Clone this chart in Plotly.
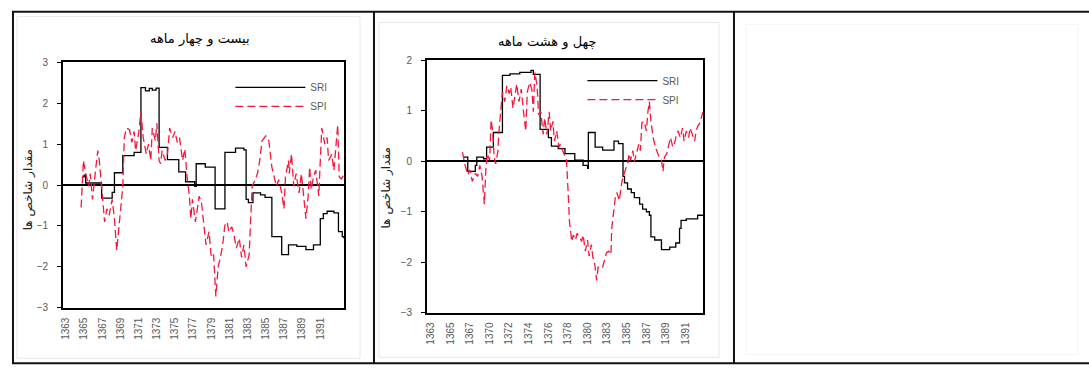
import plotly.graph_objects as go

# ---- 24-month indices (months counted from 1363/01) ----
sri24_month = [21, 24, 26, 47, 61, 64, 75, 90, 99, 105, 110, 114, 119, 123, 134, 149, 158,
               170, 172, 184, 197, 210, 224, 235, 238, 241, 247, 257, 263, 272, 285, 294,
               305, 317, 327, 336, 340, 345, 354, 360, 365, 367]
sri24_value = [0.2, 0.24, 0.05, -0.32, -0.18, 0.3, 0.72, 0.8, 2.38, 2.3, 2.36, 2.32, 2.37,
               0.92, 0.62, 0.32, 0.08, -0.03, 0.52, 0.44, -0.58, 0.8, 0.9, 0.86, -0.35,
               -0.43, -0.19, -0.24, -0.3, -1.26, -1.7, -1.46, -1.5, -1.58, -1.46, -0.82,
               -0.7, -0.64, -0.68, -1.14, -1.26, -1.3]

spi24_month = [20, 23, 26, 30, 32, 35, 39, 42, 44, 48, 51, 54, 57, 61, 64, 67, 70, 73, 75,
               77, 80, 84, 87, 90, 92, 96, 99, 102, 106, 109, 112, 114, 118, 120, 123, 125,
               127, 131, 134, 137, 141, 144, 147, 150, 154, 157, 160, 163, 165, 167, 171,
               174, 176, 179, 182, 185, 189, 192, 195, 198, 201, 204, 207, 210, 213, 215,
               219, 222, 225, 229, 232, 235, 238, 242, 244, 246, 250, 253, 256, 259, 264,
               268, 272, 275, 278, 281, 285, 288, 290, 294, 295, 298, 301, 304, 308, 311,
               314, 317, 320, 322, 324, 327, 330, 334, 336, 338, 342, 345, 347, 351, 354,
               357, 359, 361, 364, 367]
spi24_value = [-0.55, 0.6, 0.28, -0.03, 0.28, -0.35, 0.36, 0.84, 0.6, -0.19, -0.9, -0.58,
               -0.74, -0.35, -0.82, -1.6, -0.9, -0.43, -0.03, 1.16, 1.39, 1.35, 1.04, 1.31,
               0.84, 1.27, 1.79, 1.16, 0.76, 1.0, 0.6, 1.39, 1.08, 1.51, 0.6, 0.52, 0.84,
               0.6, 0.75, 1.39, 1.16, 1.31, 1.04, 1.16, 0.6, 0.88, 0.2, -0.27, -0.82,
               -0.35, -0.9, -0.5, -0.27, -0.43, -0.98, -1.46, -1.14, -1.77, -1.7, -2.72,
               -2.0, -1.77, -1.46, -0.98, -0.9, -1.14, -1.02, -1.22, -1.54, -1.3, -1.77,
               -1.46, -2.0, -1.7, -0.82, -0.03, 0.13, 0.28, 0.6, 1.08, 1.2, 1.08, 0.44,
               0.2, -0.03, 0.13, -0.19, -0.58, 0.2, 0.6, 0.28, 0.76, -0.03, 0.28, -0.19,
               0.28, -0.35, -0.82, -0.27, 0.44, -0.11, 0.2, 0.36, -0.27, 0.6, 1.39, 1.0,
               1.16, 0.6, 0.75, 0.36, 1.0, 1.47, 0.2, 0.15, 0.25]

# ---- 48-month indices ----
sri48_month = [43, 49, 59, 61, 70, 74, 83, 95, 105, 118, 133, 136, 145, 156, 160, 169, 178,
               191, 202, 208, 209, 218, 228, 243, 249, 255, 257, 261, 266, 270, 277, 281,
               286, 290, 292, 297, 306, 317, 325, 330, 332, 339, 354, 361]
sri48_value = [0.08, -0.2, -0.08, 0.08, 0.05, 0.28, 0.57, 1.7, 1.73, 1.76, 1.8, 1.72, 0.63,
               0.47, 0.3, 0.25, 0.15, 0.02, -0.08, -0.14, 0.57, 0.28, 0.22, 0.4, 0.35,
               -0.3, -0.43, -0.55, -0.62, -0.72, -0.85, -0.95, -1.0, -1.07, -1.5, -1.56,
               -1.75, -1.7, -1.62, -1.33, -1.17, -1.14, -1.07, -1.07]

spi48_month = [42, 45, 49, 52, 55, 59, 62, 65, 68, 71, 73, 75, 78, 80, 82, 84, 86, 89, 90,
               93, 95, 98, 101, 104, 106, 109, 112, 114, 117, 120, 123, 126, 128, 131, 134,
               136, 138, 141, 143, 146, 149, 151, 154, 157, 159, 162, 164, 167, 170, 172,
               175, 178, 180, 182, 184, 187, 189, 192, 194, 198, 200, 202, 205, 208, 210,
               213, 215, 217, 220, 222, 225, 228, 231, 233, 236, 239, 240, 243, 245, 247,
               250, 252, 254, 256, 258, 261, 263, 265, 268, 270, 273, 276, 278, 280, 283,
               286, 288, 290, 292, 295, 298, 300, 303, 306, 308, 310, 313, 315, 318, 321,
               323, 326, 328, 331, 334, 336, 339, 342, 344, 347, 350, 352, 354, 357, 359,
               361]
spi48_value = [0.18, -0.05, -0.27, -0.17, -0.4, -0.24, -0.3, -0.08, -0.3, -0.85, -0.17,
               0.15, 0.02, 0.82, 0.6, 0.08, -0.05, 0.2, 0.53, 1.11, 1.37, 1.18, 1.5, 1.34,
               1.47, 1.05, 1.4, 1.53, 1.18, 1.43, 0.98, 0.6, 1.37, 1.56, 1.43, 0.98, 1.76,
               1.5, 0.92, 0.98, 0.53, 0.86, 0.53, 0.98, 0.6, 0.79, 0.4, 0.6, 0.28, 0.34,
               0.21, 0.08, 0.02, -0.56, -1.2, -1.59, -1.46, -1.56, -1.43, -1.52, -1.59,
               -1.46, -1.78, -1.56, -1.88, -1.65, -1.91, -1.97, -2.36, -2.1, -2.13, -2.1,
               -1.91, -1.81, -1.78, -1.85, -1.33, -0.88, -0.69, -0.62, -0.78, -0.56, -0.37,
               -0.3, -0.17, -0.05, 0.15, 0.02, 0.21, -0.01, 0.15, 0.34, 0.21, 0.76, 0.79,
               0.6, 0.98, 1.18, 0.79, 0.47, 0.28, 0.21, 0.08, 0.02, -0.2, 0.08, 0.15, 0.28,
               0.47, 0.28, 0.34, 0.53, 0.6, 0.47, 0.66, 0.4, 0.6, 0.47, 0.66, 0.53, 0.4,
               0.6, 0.69, 0.76, 0.89, 0.98]

# ---- axis labels ----
ticks24_month = [0, 24, 48, 72, 96, 120, 144, 168, 192, 216, 240, 264, 288, 312, 336]
ticks24_text = ["1363", "1365", "1367", "1369", "1371", "1373", "1375", "1377", "1379",
                "1381", "1383", "1385", "1387", "1389", "1391"]
ticks48_month = [0, 26, 52, 78, 104, 130, 156, 182, 208, 234, 260, 286, 312, 338]
ticks48_text = ["1363", "1365", "1367", "1370", "1372", "1374", "1376", "1378", "1380",
                "1383", "1385", "1387", "1389", "1391"]

title24 = "بیست و چهار ماهه"
title48 = "چهل و هشت ماهه"
y_title = "مقدار شاخص ها"

W, H = 1089, 374
BLACK = "#000000"
RED = "#f5173d"
GREY = "#595959"
TICK_FONT = dict(family="Liberation Sans, Arial, sans-serif", size=10, color=GREY)
LEG_FONT = dict(family="Liberation Sans, Arial, sans-serif", size=10, color=GREY)
FA_FONT = "DejaVu Sans, Noto Sans, sans-serif"


def px_x(v):
    return v / W


def px_y(v):
    return 1 - v / H


fig = go.Figure()

fig.add_trace(go.Scatter(x=sri24_month, y=sri24_value, mode="lines", name="SRI",
                         line=dict(color=BLACK, width=1.3, shape="hv"),
                         xaxis="x", yaxis="y", legend="legend"))
fig.add_trace(go.Scatter(x=spi24_month, y=spi24_value, mode="lines", name="SPI",
                         line=dict(color=RED, width=1.3, dash="8px,4px"),
                         xaxis="x", yaxis="y", legend="legend"))
fig.add_trace(go.Scatter(x=sri48_month, y=sri48_value, mode="lines", name="SRI",
                         line=dict(color=BLACK, width=1.3, shape="hv"),
                         xaxis="x2", yaxis="y2", legend="legend2"))
fig.add_trace(go.Scatter(x=spi48_month, y=spi48_value, mode="lines", name="SPI",
                         line=dict(color=RED, width=1.3, dash="8px,4px"),
                         xaxis="x2", yaxis="y2", legend="legend2"))

xcommon = dict(showgrid=False, zeroline=False, showline=True, mirror=True,
               linecolor=BLACK, linewidth=1.5, ticks="", tickangle=-90,
               tickfont=TICK_FONT, tickmode="array", ticklabelstandoff=4)
ycommon = dict(showgrid=False, zeroline=True, zerolinecolor=BLACK, zerolinewidth=1.5,
               showline=True, mirror=True, linecolor=BLACK, linewidth=1.5,
               ticks="outside", ticklen=4, tickcolor=BLACK, tickwidth=1,
               tickfont=TICK_FONT, dtick=1, tick0=0, ticklabelstandoff=7)

fig.update_layout(
    width=W, height=H,
    margin=dict(l=0, r=0, t=0, b=0),
    paper_bgcolor="white", plot_bgcolor="white",
    xaxis=dict(domain=[px_x(60), px_x(342)], range=[-4.2, 367.4],
               tickvals=ticks24_month, ticktext=ticks24_text, anchor="y", **xcommon),
    yaxis=dict(domain=[px_y(312), px_y(59)], range=[-3, 3], anchor="x", **ycommon),
    xaxis2=dict(domain=[px_x(425), px_x(702)], range=[-5.3, 361.2],
                tickvals=ticks48_month, ticktext=ticks48_text, anchor="y2", **xcommon),
    yaxis2=dict(domain=[px_y(317), px_y(57)], range=[-3, 2], anchor="x2", **ycommon),
    legend=dict(x=px_x(228), y=px_y(70), xanchor="left", yanchor="top",
                bgcolor="rgba(0,0,0,0)", font=LEG_FONT, itemwidth=70,
                tracegroupgap=0),
    legend2=dict(x=px_x(581), y=px_y(63), xanchor="left", yanchor="top",
                 bgcolor="rgba(0,0,0,0)", font=LEG_FONT, itemwidth=70,
                 tracegroupgap=0),
    showlegend=True,
)

# chart titles and vertical axis titles
annots = [
    dict(text=title24, x=px_x(198), y=px_y(35), font=dict(family=FA_FONT, size=13, color=BLACK)),
    dict(text=title48, x=px_x(546), y=px_y(38), font=dict(family=FA_FONT, size=13, color=BLACK)),
    dict(text=y_title, x=px_x(25), y=px_y(190), textangle=-90,
         font=dict(family=FA_FONT, size=12, color="#222222")),
    dict(text=y_title, x=px_x(385), y=px_y(188), textangle=-90,
         font=dict(family=FA_FONT, size=12, color="#222222")),
]
for a in annots:
    fig.add_annotation(xref="paper", yref="paper", showarrow=False,
                       xanchor="center", yanchor="middle", **a)

# table grid and faint picture frames
shapes = [
    dict(type="rect", x0=px_x(14), x1=px_x(358), y0=px_y(364), y1=px_y(12),
         line=dict(color="#e8e8e8", width=1)),
    dict(type="rect", x0=px_x(377), x1=px_x(718), y0=px_y(363), y1=px_y(18),
         line=dict(color="#e8e8e8", width=1)),
    dict(type="rect", x0=px_x(745), x1=px_x(1078), y0=px_y(360), y1=px_y(20),
         line=dict(color="#f4f4f4", width=1)),
    dict(type="line", x0=px_x(9), x1=1, y0=px_y(7), y1=px_y(7),
         line=dict(color="#111111", width=2)),
    dict(type="line", x0=px_x(9), x1=1, y0=px_y(369), y1=px_y(369),
         line=dict(color="#111111", width=2)),
    dict(type="line", x0=px_x(10), x1=px_x(10), y0=px_y(369), y1=px_y(7),
         line=dict(color="#111111", width=2)),
    dict(type="line", x0=px_x(372), x1=px_x(372), y0=px_y(369), y1=px_y(7),
         line=dict(color="#111111", width=2)),
    dict(type="line", x0=px_x(733), x1=px_x(733), y0=px_y(369), y1=px_y(7),
         line=dict(color="#111111", width=2)),
]
for s in shapes:
    fig.add_shape(xref="paper", yref="paper", layer="above", **s)

fig.write_html("out.html")
